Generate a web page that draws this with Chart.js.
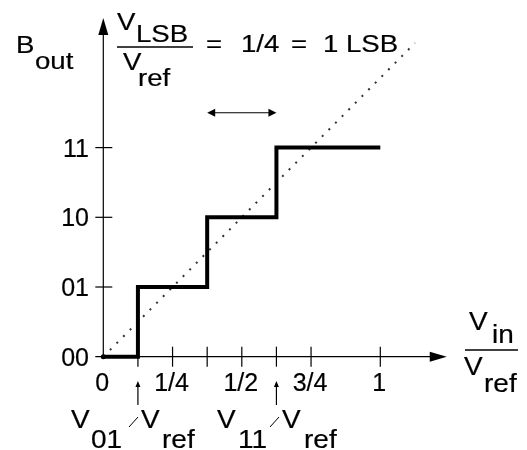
<!DOCTYPE html>
<html>
<head>
<meta charset="utf-8">
<script src="https://cdn.jsdelivr.net/npm/chart.js@4.4.1/dist/chart.umd.min.js"></script>
<style>
  html, body { margin: 0; padding: 0; background: #fff; }
  #wrap { width: 527px; height: 450px; }
</style>
</head>
<body>
<div id="wrap"><canvas id="chart" width="527" height="450"></canvas></div>
<script>
// output codes on the y axis, one per level
const codes = ['00', '01', '10', '11'];
const levels = [0, 1, 2, 3];
// x tick marks (Vin/Vref) and the labelled ones
const xTickValues = [0, 0.125, 0.25, 0.375, 0.5, 0.625, 0.75, 1];
const xLabelValues = [0, 0.25, 0.5, 0.75, 1];
const xLabels = ['0', '1/4', '1/2', '3/4', '1'];
// staircase transfer curve
const stepX = [0, 0.125, 0.375, 0.625, 1];
const stepY = [0, 1, 2, 3, 3];
// ideal (dotted) line
const idealX = [0, 1.125];
const idealY = [0, 4.5];
// one LSB span marker
const lsbSpan = [0.375, 0.625];
const lsbLevel = 3.5;
// threshold markers V01, V11
const thresholdX = [0.125, 0.625];

function txt(ctx, s, x, y, opt) {
  const o = Object.assign({ size: 25, sx: 1.1, align: 'left' }, opt || {});
  ctx.save();
  ctx.font = o.size + 'px "Liberation Sans", Arial, sans-serif';
  ctx.translate(x, y);
  ctx.scale(o.sx, 1);
  ctx.textAlign = o.align;
  ctx.textBaseline = 'alphabetic';
  ctx.lineWidth = 0.2;
  ctx.strokeStyle = '#000';
  ctx.fillText(s, 0, 0);
  ctx.strokeText(s, 0, 0);
  ctx.restore();
}

function arrowHead(ctx, tx, ty, dir, len, half) {
  ctx.beginPath();
  ctx.moveTo(tx, ty);
  if (dir === 'up') { ctx.lineTo(tx - half, ty + len); ctx.lineTo(tx + half, ty + len); }
  if (dir === 'right') { ctx.lineTo(tx - len, ty - half); ctx.lineTo(tx - len, ty + half); }
  if (dir === 'left') { ctx.lineTo(tx + len, ty - half); ctx.lineTo(tx + len, ty + half); }
  ctx.closePath();
  ctx.fill();
}

const axesPlugin = {
  id: 'axes',
  beforeDatasetsDraw(chart) {
    const { ctx, scales: { x, y } } = chart;
    const x0 = x.getPixelForValue(0);
    const y0 = y.getPixelForValue(0);
    const yTip = y.getPixelForValue(4.86);
    const xTip = x.getPixelForValue(1.24);
    ctx.save();
    ctx.strokeStyle = '#000';
    ctx.fillStyle = '#000';
    ctx.lineWidth = 1.2;

    // y axis
    ctx.beginPath();
    ctx.moveTo(x0, y0);
    ctx.lineTo(x0, yTip + 10);
    ctx.stroke();
    arrowHead(ctx, x0, yTip, 'up', 17, 5);

    // x axis
    ctx.beginPath();
    ctx.moveTo(x0 - 8, y0);
    ctx.lineTo(xTip - 10, y0);
    ctx.stroke();
    arrowHead(ctx, xTip, y0, 'right', 17, 5);

    // y ticks + labels
    levels.forEach((lv, i) => {
      const py = y.getPixelForValue(lv);
      if (lv > 0) {
        ctx.beginPath();
        ctx.moveTo(x0 - 8, py);
        ctx.lineTo(x0 + 9, py);
        ctx.stroke();
      }
      txt(ctx, codes[i], 89, py + 9, { align: 'right', sx: 1.0 });
    });

    // x ticks
    xTickValues.forEach(v => {
      if (v === 0) return;
      const px = x.getPixelForValue(v);
      ctx.beginPath();
      ctx.moveTo(px, y0 - 10);
      ctx.lineTo(px, y0 + 10);
      ctx.stroke();
    });
    xLabelValues.forEach((v, i) => {
      txt(ctx, xLabels[i], x.getPixelForValue(v) - 1, 391, { align: 'center', sx: 1.0 });
    });

    // origin dot
    ctx.beginPath();
    ctx.arc(x0, y0, 2.5, 0, Math.PI * 2);
    ctx.fill();
    ctx.restore();
  },
  afterDraw(chart) {
    const { ctx, scales: { x, y } } = chart;
    ctx.save();
    ctx.fillStyle = '#000';
    ctx.strokeStyle = '#000';
    ctx.lineWidth = 1.2;

    // LSB span double arrow
    const ly = y.getPixelForValue(lsbLevel);
    const la = x.getPixelForValue(lsbSpan[0]);
    const lb = x.getPixelForValue(lsbSpan[1]);
    ctx.beginPath();
    ctx.moveTo(la + 6, ly);
    ctx.lineTo(lb - 6, ly);
    ctx.stroke();
    arrowHead(ctx, la, ly, 'left', 8, 4);
    arrowHead(ctx, lb, ly, 'right', 8, 4);

    // threshold markers
    thresholdX.forEach(v => {
      const px = x.getPixelForValue(v);
      ctx.beginPath();
      ctx.moveTo(px, 405);
      ctx.lineTo(px, 386);
      ctx.stroke();
      arrowHead(ctx, px, 381, 'up', 6, 2.5);
    });

    const H = { size: 23, sx: 1.2 };
    // B_out
    txt(ctx, 'B', 16, 53, H);
    txt(ctx, 'out', 35, 69, H);

    // VLSB / Vref = 1/4 = 1 LSB
    txt(ctx, 'V', 117, 30, H);
    txt(ctx, 'LSB', 136, 42, H);
    ctx.lineWidth = 1.6;
    ctx.beginPath();
    ctx.moveTo(117, 47);
    ctx.lineTo(193, 47);
    ctx.stroke();
    txt(ctx, 'V', 123, 70, H);
    txt(ctx, 'ref', 138, 86, H);
    txt(ctx, '=', 206, 52, H);
    txt(ctx, '1/4', 241, 52, H);
    txt(ctx, '=', 291, 52, H);
    txt(ctx, '1 LSB', 323, 52, H);

    // Vin / Vref
    const R = { size: 25, sx: 1.12 };
    txt(ctx, 'V', 469, 330, R);
    txt(ctx, 'in', 492, 343, R);
    ctx.beginPath();
    ctx.moveTo(465, 350);
    ctx.lineTo(518, 350);
    ctx.stroke();
    txt(ctx, 'V', 464, 375, R);
    txt(ctx, 'ref', 484, 392, R);

    // V01/Vref  V11/Vref
    ctx.lineWidth = 1;
    txt(ctx, 'V', 71, 428, R);
    txt(ctx, '01', 91, 448, R);
    ctx.beginPath(); ctx.moveTo(129, 427); ctx.lineTo(138, 417); ctx.stroke();
    txt(ctx, 'V', 141, 428, R);
    txt(ctx, 'ref', 162, 448, R);
    txt(ctx, 'V', 217, 428, R);
    txt(ctx, '11', 238, 448, R);
    ctx.beginPath(); ctx.moveTo(270, 427); ctx.lineTo(279, 417); ctx.stroke();
    txt(ctx, 'V', 282, 428, R);
    txt(ctx, 'ref', 304, 448, R);
    ctx.restore();
  }
};

new Chart(document.getElementById('chart'), {
  type: 'line',
  data: {
    datasets: [
      {
        data: stepX.map((v, i) => ({ x: v, y: stepY[i] })),
        stepped: 'before',
        borderColor: '#000',
        borderWidth: 4,
        borderJoinStyle: 'miter',
        pointRadius: 0,
        fill: false,
        clip: false
      },
      {
        data: idealX.map((v, i) => ({ x: v, y: idealY[i] })),
        borderColor: '#333',
        borderWidth: 2,
        borderDash: [2, 7.4],
        pointRadius: 0,
        fill: false,
        clip: false
      }
    ]
  },
  options: {
    responsive: false,
    animation: false,
    events: [],
    layout: { padding: { left: 103.3, right: 77.45, top: 43.05, bottom: 93.3 } },
    scales: {
      x: { type: 'linear', min: 0, max: 1.25, display: false },
      y: { type: 'linear', min: 0, max: 4.5, display: false }
    },
    plugins: { legend: { display: false }, tooltip: { enabled: false } }
  },
  plugins: [axesPlugin]
});
</script>
</body>
</html>
